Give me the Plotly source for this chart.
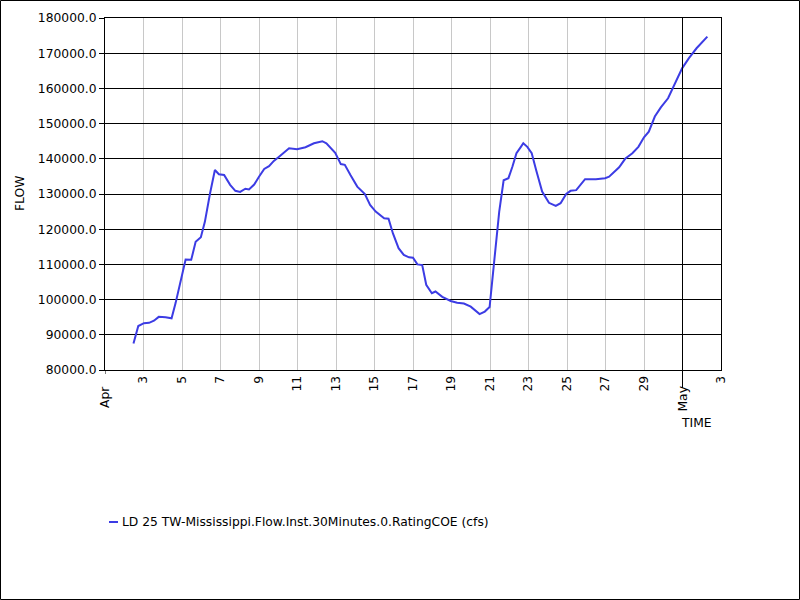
import plotly.graph_objects as go

# Data
times = [
    "2024-04-02 11:30", "2024-04-02 17:30", "2024-04-03 00:30", "2024-04-03 07:00",
    "2024-04-03 13:00", "2024-04-03 19:00", "2024-04-04 03:30", "2024-04-04 11:00",
    "2024-04-04 16:00", "2024-04-04 22:30", "2024-04-05 04:30", "2024-04-05 11:30",
    "2024-04-05 17:00", "2024-04-05 23:30", "2024-04-06 04:30", "2024-04-06 11:00",
    "2024-04-06 17:00", "2024-04-06 22:00", "2024-04-07 04:30", "2024-04-07 12:00",
    "2024-04-07 18:30", "2024-04-08 00:30", "2024-04-08 07:00", "2024-04-08 11:30",
    "2024-04-08 18:00", "2024-04-09 00:00", "2024-04-09 06:30", "2024-04-09 12:30",
    "2024-04-09 18:30", "2024-04-10 01:00", "2024-04-10 09:00", "2024-04-10 13:30",
    "2024-04-10 23:30", "2024-04-11 10:00", "2024-04-11 20:30", "2024-04-12 07:00",
    "2024-04-12 12:00", "2024-04-12 23:00", "2024-04-13 06:00", "2024-04-13 11:00",
    "2024-04-13 18:00", "2024-04-14 02:30", "2024-04-14 12:00", "2024-04-14 18:30",
    "2024-04-15 01:30", "2024-04-15 12:00", "2024-04-15 17:30", "2024-04-15 23:00",
    "2024-04-16 06:00", "2024-04-16 12:30", "2024-04-16 19:00", "2024-04-17 00:00",
    "2024-04-17 05:30", "2024-04-17 11:30", "2024-04-17 16:30", "2024-04-17 23:30",
    "2024-04-18 04:00", "2024-04-18 12:30", "2024-04-18 23:00", "2024-04-19 07:00",
    "2024-04-19 15:30", "2024-04-20 00:00", "2024-04-20 11:00", "2024-04-20 17:30",
    "2024-04-20 23:30", "2024-04-21 04:30", "2024-04-21 11:30", "2024-04-21 17:00",
    "2024-04-21 23:00", "2024-04-22 04:00", "2024-04-22 09:00", "2024-04-22 14:30",
    "2024-04-22 17:30", "2024-04-22 22:30", "2024-04-23 04:00", "2024-04-23 09:30",
    "2024-04-23 17:00", "2024-04-24 01:30", "2024-04-24 10:00", "2024-04-24 16:00",
    "2024-04-24 23:00", "2024-04-25 04:30", "2024-04-25 11:30", "2024-04-25 22:30",
    "2024-04-26 12:00", "2024-04-26 23:30", "2024-04-27 04:30", "2024-04-27 17:00",
    "2024-04-28 00:30", "2024-04-28 09:30", "2024-04-28 17:00", "2024-04-29 00:00",
    "2024-04-29 06:00", "2024-04-29 13:30", "2024-04-29 21:00", "2024-04-30 06:00",
    "2024-04-30 15:30", "2024-04-30 23:30", "2024-05-01 08:00", "2024-05-01 17:30",
    "2024-05-02 07:00",
]
flow = [
    87500, 92500, 93300, 93400,
    94000, 95100, 95000, 94700,
    99000, 105600, 111400, 111300,
    116400, 117700, 122100, 130200,
    136800, 135600, 135400, 132600,
    130900, 130600, 131500, 131300,
    132700, 134900, 137100, 137900,
    139400, 140600, 142000, 143000,
    142700, 143300, 144400, 145000,
    144400, 141700, 138500, 138300,
    135400, 132100, 130000, 126900,
    125000, 123100, 123000, 118800,
    114600, 112700, 112000, 111900,
    110000, 109800, 104200, 101800,
    102300, 100800, 99600, 99100,
    98900, 98000, 95900, 96600,
    97900, 108800, 125000, 133900,
    134500, 137800, 141600, 143400,
    144400, 143400, 141600, 136800,
    130700, 127500, 126600, 127400,
    130000, 130900, 131100, 134200,
    134200, 134500, 134900, 137600,
    140000, 141600, 143400, 146100,
    147700, 152000, 154600, 157200,
    161900, 165700, 168600, 171400,
    174700,
]
series_name = "LD 25 TW-Mississippi.Flow.Inst.30Minutes.0.RatingCOE (cfs)"

tick_dates = ["2024-04-01", "2024-04-03", "2024-04-05", "2024-04-07", "2024-04-09",
              "2024-04-11", "2024-04-13", "2024-04-15", "2024-04-17", "2024-04-19",
              "2024-04-21", "2024-04-23", "2024-04-25", "2024-04-27", "2024-04-29",
              "2024-05-01", "2024-05-03"]
tick_labels = ["", "3", "5", "7", "9", "11", "13", "15", "17", "19", "21", "23",
               "25", "27", "29", "", "3"]
month_dates = ["2024-04-01", "2024-05-01"]
month_labels = ["Apr", "May"]

x_range = ["2024-04-01", "2024-05-03"]
y_range = [80000, 180000]

line_color = "#3c3ce4"
font_family = "DejaVu Sans, Verdana, sans-serif"
font_size = 12.3

# Layout geometry (pixels)
W, H = 800, 600
L, R, T, B = 105, 79, 18, 230
pw, ph = W - L - R, H - T - B


def px_x(x):
    return (x - L) / pw


def px_y(y):
    return (H - B - y) / ph


fig = go.Figure()
fig.add_trace(go.Scatter(
    x=times, y=flow, mode="lines", name=series_name,
    line=dict(color=line_color, width=2), showlegend=False,
))

fig.update_layout(
    width=W, height=H,
    margin=dict(l=L, r=R, t=T, b=B, pad=0),
    paper_bgcolor="white", plot_bgcolor="white",
    font=dict(family=font_family, size=font_size, color="black"),
    xaxis=dict(
        type="date", range=x_range,
        tickmode="array", tickvals=tick_dates, ticktext=tick_labels,
        tickangle=-90, tickfont=dict(size=font_size),
        showgrid=True, gridcolor="#c8c8c8", gridwidth=1,
        showline=True, linecolor="black", linewidth=1, mirror=True,
        ticks="", ticklen=0,
        zeroline=False,
    ),
    yaxis=dict(
        range=y_range, dtick=10000, tick0=80000, tickformat=".1f",
        showgrid=True, gridcolor="black", gridwidth=1,
        showline=True, linecolor="black", linewidth=1, mirror=True,
        ticks="outside", ticklen=5, tickcolor="black",
        zeroline=False, tickfont=dict(size=font_size),
    ),
)

shapes = [
    # black May 1 gridline plus long month tick
    dict(type="line", xref="x", yref="paper", x0=month_dates[1], x1=month_dates[1],
         y0=px_y(388), y1=1, line=dict(color="black", width=1)),
    # Apr month tick
    dict(type="line", xref="x", yref="paper", x0=month_dates[0], x1=month_dates[0],
         y0=px_y(374), y1=0, line=dict(color="black", width=1)),
    # legend sample line
    dict(type="line", xref="paper", yref="paper", x0=px_x(109), x1=px_x(118),
         y0=px_y(522), y1=px_y(522), line=dict(color=line_color, width=2)),
    # outer border
    dict(type="rect", xref="paper", yref="paper", x0=px_x(0.5), x1=px_x(799.5),
         y0=px_y(599.5), y1=px_y(0.5), line=dict(color="black", width=1)),
]
fig.update_layout(shapes=shapes)

annotations = [
    dict(text="FLOW", xref="paper", yref="paper", x=px_x(20), y=px_y(194),
         textangle=-90, showarrow=False, xanchor="center", yanchor="middle",
         font=dict(size=font_size)),
    dict(text="TIME", xref="paper", yref="paper", x=px_x(696), y=px_y(423),
         showarrow=False, xanchor="center", yanchor="middle", font=dict(size=font_size)),
    dict(text=series_name, xref="paper", yref="paper", x=px_x(120), y=px_y(522),
         showarrow=False, xanchor="left", yanchor="middle", font=dict(size=font_size)),
]
for d, lab, yc in zip(month_dates, month_labels, [397, 399]):
    annotations.append(dict(text=lab, xref="x", yref="paper", x=d, y=px_y(yc),
                            textangle=-90, showarrow=False, xanchor="center",
                            yanchor="middle", font=dict(size=font_size)))
fig.update_layout(annotations=annotations)

fig.write_html(
    "out.html",
    config={"displayModeBar": False},
    post_script="document.body.style.margin='0';document.body.style.padding='0';",
)
